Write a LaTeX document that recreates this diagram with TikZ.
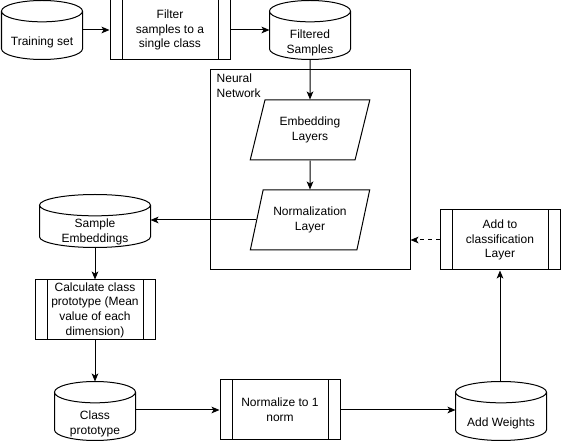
\documentclass[tikz,border=0pt]{standalone}
\usepackage{fontspec}
\setmainfont{Liberation Sans}
\usetikzlibrary{arrows.meta,shapes.geometric,positioning,calc}
\tikzset{
	every node/.style={font=\fontsize{9}{11}\selectfont, align=center},
	db/.style={rectangle, minimum width=60pt, minimum height=43.5pt, inner sep=0pt},
	dbtext/.style={yshift=-9.5pt, inner sep=0pt},
	proc/.style={draw, rectangle, minimum width=90pt, minimum height=45pt, inner sep=1pt,
		path picture={
			\draw ([xshift=9pt]path picture bounding box.north west) -- ([xshift=9pt]path picture bounding box.south west);
			\draw ([xshift=-9pt]path picture bounding box.north east) -- ([xshift=-9pt]path picture bounding box.south east);
		}},
	layer/.style={draw, trapezium, trapezium left angle=70, trapezium right angle=110, trapezium stretches=true, minimum width=90pt, minimum height=45pt, inner sep=1pt},
	flow/.style={-{Stealth[length=6pt,width=5pt,inset=1.5pt]}}
}
% outline of a drum (cylinder) round a named node
\newcommand{\drum}[1]{
	\draw let \p1=(#1.north west), \p2=(#1.south east), \n1={(\x2-\x1)/2} in
		(\x1,\y1-8pt) -- (\x1,\y2+8pt) arc[start angle=180, end angle=360, x radius=\n1, y radius=8pt]
		-- (\x2,\y1-8pt) arc[start angle=0, end angle=180, x radius=\n1, y radius=8pt]
		arc[start angle=180, end angle=360, x radius=\n1, y radius=8pt];
}
\begin{document}
\begin{tikzpicture}[x=0.75pt, y=-0.75pt, line width=0.75pt]
	\useasboundingbox (0,0) rectangle (561,441);
	% top row
	\node[db, label={[dbtext]center:Training set}] (train) at (42,30) {};
	\node[proc] (filter) at (170,30) {Filter\\samples to a\\single class};
	\node[db, label={[dbtext]center:Filtered\\Samples}] (filtered) at (310,30) {};
	% network
	\node[draw, rectangle, minimum width=150pt, minimum height=150pt, label={[anchor=north west, align=left, inner sep=0pt, xshift=5pt, yshift=-3pt]north west:Neural\\Network}] (nn) at (310,170) {};
	\node[layer] (embed) at (310,130) {Embedding\\Layers};
	\node[layer] (norm) at (310,220) {Normalization\\Layer};
	% left column
	\node[db, minimum width=82.5pt, minimum height=39pt, label={[dbtext, yshift=1.5pt]center:Sample\\Embeddings}] (sample) at (95,221) {};
	\node[proc] (calc) at (95,310) {Calculate class\\prototype (Mean\\value of each\\dimension)};
	% bottom row
	\node[db, label={[dbtext]center:Class\\prototype}] (proto) at (95,411) {};
	\node[proc] (unit) at (280,410) {Normalize to 1\\norm};
	\node[db, minimum width=67.5pt, label={[dbtext]center:Add Weights}] (weights) at (501,411) {};
	\node[proc] (addcls) at (500,240) {Add to\\classification\\Layer};
	\drum{train}
	\drum{filtered}
	\drum{sample}
	\drum{proto}
	\drum{weights}
	% connectors
	\draw[flow] (train.east) -- (filter.west);
	\draw[flow] (filter.east) -- (filtered.west |- filter.east);
	\draw[flow] (filtered.south) -- (embed.north);
	\draw[flow] (embed.south) -- (norm.north);
	\draw[flow] (norm.west) -- (norm.west -| sample.east);
	\draw[flow] (sample.south) -- (calc.north);
	\draw[flow] (calc.south) -- (proto.north);
	\draw[flow] (proto.east |- unit.west) -- (unit.west);
	\draw[flow] (unit.east) -- (unit.east -| weights.west);
	\draw[flow] (weights.north -| addcls.south) -- (addcls.south);
	\draw[flow, dashed] (addcls.west) -- (addcls.west -| nn.east);
\end{tikzpicture}
\end{document}
